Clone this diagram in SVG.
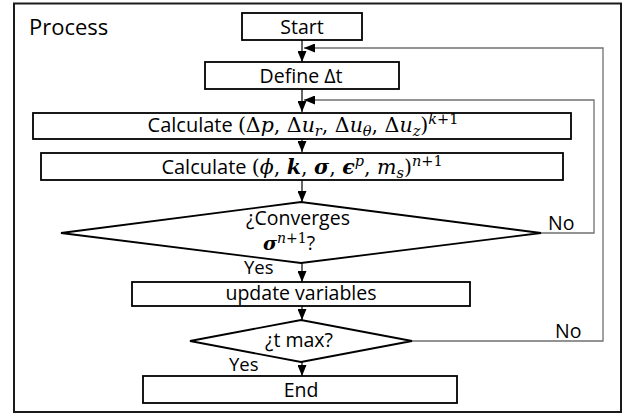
<svg xmlns="http://www.w3.org/2000/svg" width="625" height="416" viewBox="0 0 625 416">
<defs>
<style>
.box{fill:#fff;stroke:#000;stroke-width:1.8}
.t{font-family:"Open Sans","Liberation Sans",sans-serif;font-size:19.5px;fill:#000}
.ct{font-size:20px}
.m{font-family:"DejaVu Serif","Liberation Serif",serif;font-size:20.5px}
.i{font-style:italic}
.bi{font-style:italic;font-weight:bold}
.s{font-size:14.5px}
.c{stroke:#000;stroke-width:1.2;fill:none}
.l{stroke:#707070;stroke-width:1.3;fill:none}
</style>
<marker id="ah" markerUnits="userSpaceOnUse" markerWidth="11" markerHeight="9" refX="11" refY="4.5" orient="auto">
<path d="M0,0 L11,4.5 L0,9 z" fill="#000"/>
</marker>
</defs>
<rect width="625" height="416" fill="#fff"/>
<rect x="14" y="3.5" width="607" height="408.5" fill="none" stroke="#1a1a1a" stroke-width="2"/>
<text x="29" y="35" class="t" style="font-size:22px">Process</text>

<g id="connectors">
<line class="c" x1="302" y1="40" x2="302" y2="62" marker-end="url(#ah)"/>
<line class="c" x1="302" y1="89" x2="302" y2="112" marker-end="url(#ah)"/>
<line class="c" x1="302" y1="139" x2="302" y2="152" marker-end="url(#ah)"/>
<line class="c" x1="302" y1="180" x2="302" y2="202" marker-end="url(#ah)"/>
<line class="c" x1="302" y1="263" x2="302" y2="282" marker-end="url(#ah)"/>
<line class="c" x1="302" y1="306" x2="302" y2="320" marker-end="url(#ah)"/>
<line class="c" x1="302" y1="362" x2="302" y2="376" marker-end="url(#ah)"/>
<polyline class="l" points="541,233 594,233 594,100 304,100" marker-end="url(#ah)"/>
<polyline class="l" points="412,341 603,341 603,48 304,48" marker-end="url(#ah)"/>
<text x="548" y="230" class="t">No</text>
<text x="555" y="338" class="t">No</text>
<text x="244" y="274" class="t" style="font-size:18.5px">Yes</text>
<text x="229" y="371" class="t" style="font-size:18.5px">Yes</text>
</g>

<g id="start">
<rect class="box" x="242" y="13" width="120" height="27"/>
<text x="302" y="34" class="t" text-anchor="middle">Start</text>
</g>

<g id="define">
<rect class="box" x="205" y="62" width="194" height="27"/>
<text x="301" y="83" class="t" text-anchor="middle">Define Δt</text>
</g>

<g id="calc1">
<rect class="box" x="33" y="113" width="538" height="26"/>
<text x="303" y="132" class="t ct" text-anchor="middle">Calculate <tspan class="m">(Δ<tspan class="i">p</tspan>, Δ<tspan class="i">u</tspan><tspan class="i s" dy="4">r</tspan><tspan dy="-4">, Δ</tspan><tspan class="i">u</tspan><tspan class="i s" dy="4">θ</tspan><tspan dy="-4">,  Δ</tspan><tspan class="i">u</tspan><tspan class="i s" dy="4">z</tspan><tspan dy="-4">)</tspan><tspan class="i s" dy="-8">k</tspan><tspan class="s">+1</tspan></tspan></text>
</g>

<g id="calc2">
<rect class="box" x="41" y="153" width="522" height="27"/>
<text x="302" y="174" class="t ct" text-anchor="middle">Calculate <tspan class="m">(<tspan class="i">ϕ</tspan>, <tspan class="bi">k</tspan>, <tspan class="bi">σ</tspan>, <tspan class="bi">ϵ</tspan><tspan class="i s" dy="-8">p</tspan><tspan dy="8">, </tspan><tspan class="i">m</tspan><tspan class="i s" dy="4">s</tspan><tspan dy="-4">)</tspan><tspan class="i s" dy="-8">n</tspan><tspan class="s">+1</tspan></tspan></text>
</g>

<g id="converges">
<polygon class="box" points="61,233 301,202 541,233 301,263"/>
<text x="298" y="225" class="t" text-anchor="middle">¿Converges</text>
<text x="289" y="250" class="t" text-anchor="middle"><tspan class="m bi" style="font-size:19px">σ</tspan><tspan class="m i s" style="font-size:14px" dy="-7">n</tspan><tspan class="m s" style="font-size:14px">+1</tspan><tspan dy="7">?</tspan></text>
</g>

<g id="update">
<rect class="box" x="132" y="282" width="338" height="24"/>
<text x="301" y="300" class="t" text-anchor="middle">update variables</text>
</g>

<g id="tmax">
<polygon class="box" points="190,341 301,320 412,341 301,362"/>
<text x="299" y="347" class="t" text-anchor="middle">¿t max?</text>
</g>

<g id="end">
<rect class="box" x="143" y="376" width="314" height="27"/>
<text x="301" y="397" class="t" text-anchor="middle">End</text>
</g>
</svg>
